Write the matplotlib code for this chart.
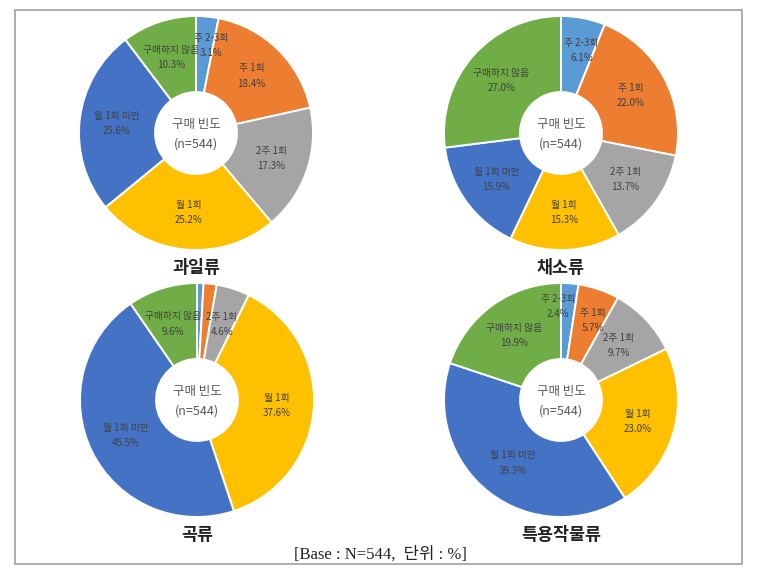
import matplotlib
matplotlib.use("Agg")
import matplotlib.pyplot as plt
import numpy as np
from matplotlib.patches import Rectangle

plt.rcParams['font.family'] = ['Noto Sans CJK KR', 'DejaVu Sans']

categories = ['주 2-3회', '주 1회', '2주 1회', '월 1회', '월 1회 미만', '구매하지 않음']
colors = ['#5B9BD5', '#ED7D31', '#A5A5A5', '#FFC000', '#4472C4', '#70AD47']

titles = ['과일류', '채소류', '곡류', '특용작물류']
fruit = [3.1, 18.4, 17.3, 25.2, 25.6, 10.3]
vegetable = [6.1, 22.0, 13.7, 15.3, 15.9, 27.0]
grain = [0.9, 1.8, 4.6, 37.6, 45.5, 9.6]
special = [2.4, 5.7, 9.7, 23.0, 39.3, 19.9]
series = [fruit, vegetable, grain, special]

center_line1 = '구매 빈도'
center_line2 = '(n=544)'
caption = '[Base : N=544,  단위 : %]'

W, H = 768, 569
fig = plt.figure(figsize=(W / 100, H / 100), dpi=100)

# frame
fig.patches.append(Rectangle((15 / W, 1 - 564 / H), (742 - 15) / W, (564 - 10) / H,
                             transform=fig.transFigure, fill=False,
                             edgecolor='#A0A0A0', linewidth=1.2))

centers = [(196, 133), (561, 133), (197, 400), (561, 400)]
R = 117
hole = 0.35

# label placement overrides for small slices: (relative radius, angle from top in deg or None)
label_pos = {
    0: {0: (0.76, 10)},
    1: {0: (0.73, 14)},
    2: {},
    3: {0: (0.80, -2), 1: (0.73, 22)},
}

for k, (vals, (cx, cy)) in enumerate(zip(series, centers)):
    ax = fig.add_axes([(cx - R) / W, 1 - (cy + R) / H, 2 * R / W, 2 * R / H])
    ax.pie(vals, colors=colors, startangle=90, counterclock=False, radius=1.0,
           wedgeprops=dict(width=1 - hole, edgecolor='white', linewidth=1.4))
    ax.set_xlim(-1, 1)
    ax.set_ylim(-1, 1)
    ax.set_aspect('equal')
    ax.axis('off')
    total = sum(vals)
    cum = 0
    for i, v in enumerate(vals):
        mid = cum + v / 2
        cum += v
        if v < 2:
            continue
        r, a = label_pos[k].get(i, (0.68, None))
        if a is None:
            a = 360 * mid / total
        ang = np.deg2rad(90 - a)
        x, y = r * np.cos(ang), r * np.sin(ang)
        ax.text(x, y + 0.065, categories[i], ha='center', va='center',
                fontsize=7, color='#404040', fontweight='medium')
        ax.text(x, y - 0.065, f'{v:.1f}%', ha='center', va='center',
                fontsize=7, color='#404040', fontweight='medium')
    ax.text(0, 0.07, center_line1, ha='center', va='center', fontsize=9, color='#595959')
    ax.text(0, -0.095, center_line2, ha='center', va='center', fontsize=9, color='#595959')

    fig.text(cx / W, 1 - (cy + 135) / H, titles[k], ha='center', va='center',
             fontsize=12.5, fontweight='bold', color='#222222')

fig.text(380 / W, 1 - 554 / H, caption, ha='center', va='center', fontsize=12,
         color='#222222', family=['Liberation Serif', 'Noto Sans CJK KR'])

fig.savefig('out.png', dpi=100)
